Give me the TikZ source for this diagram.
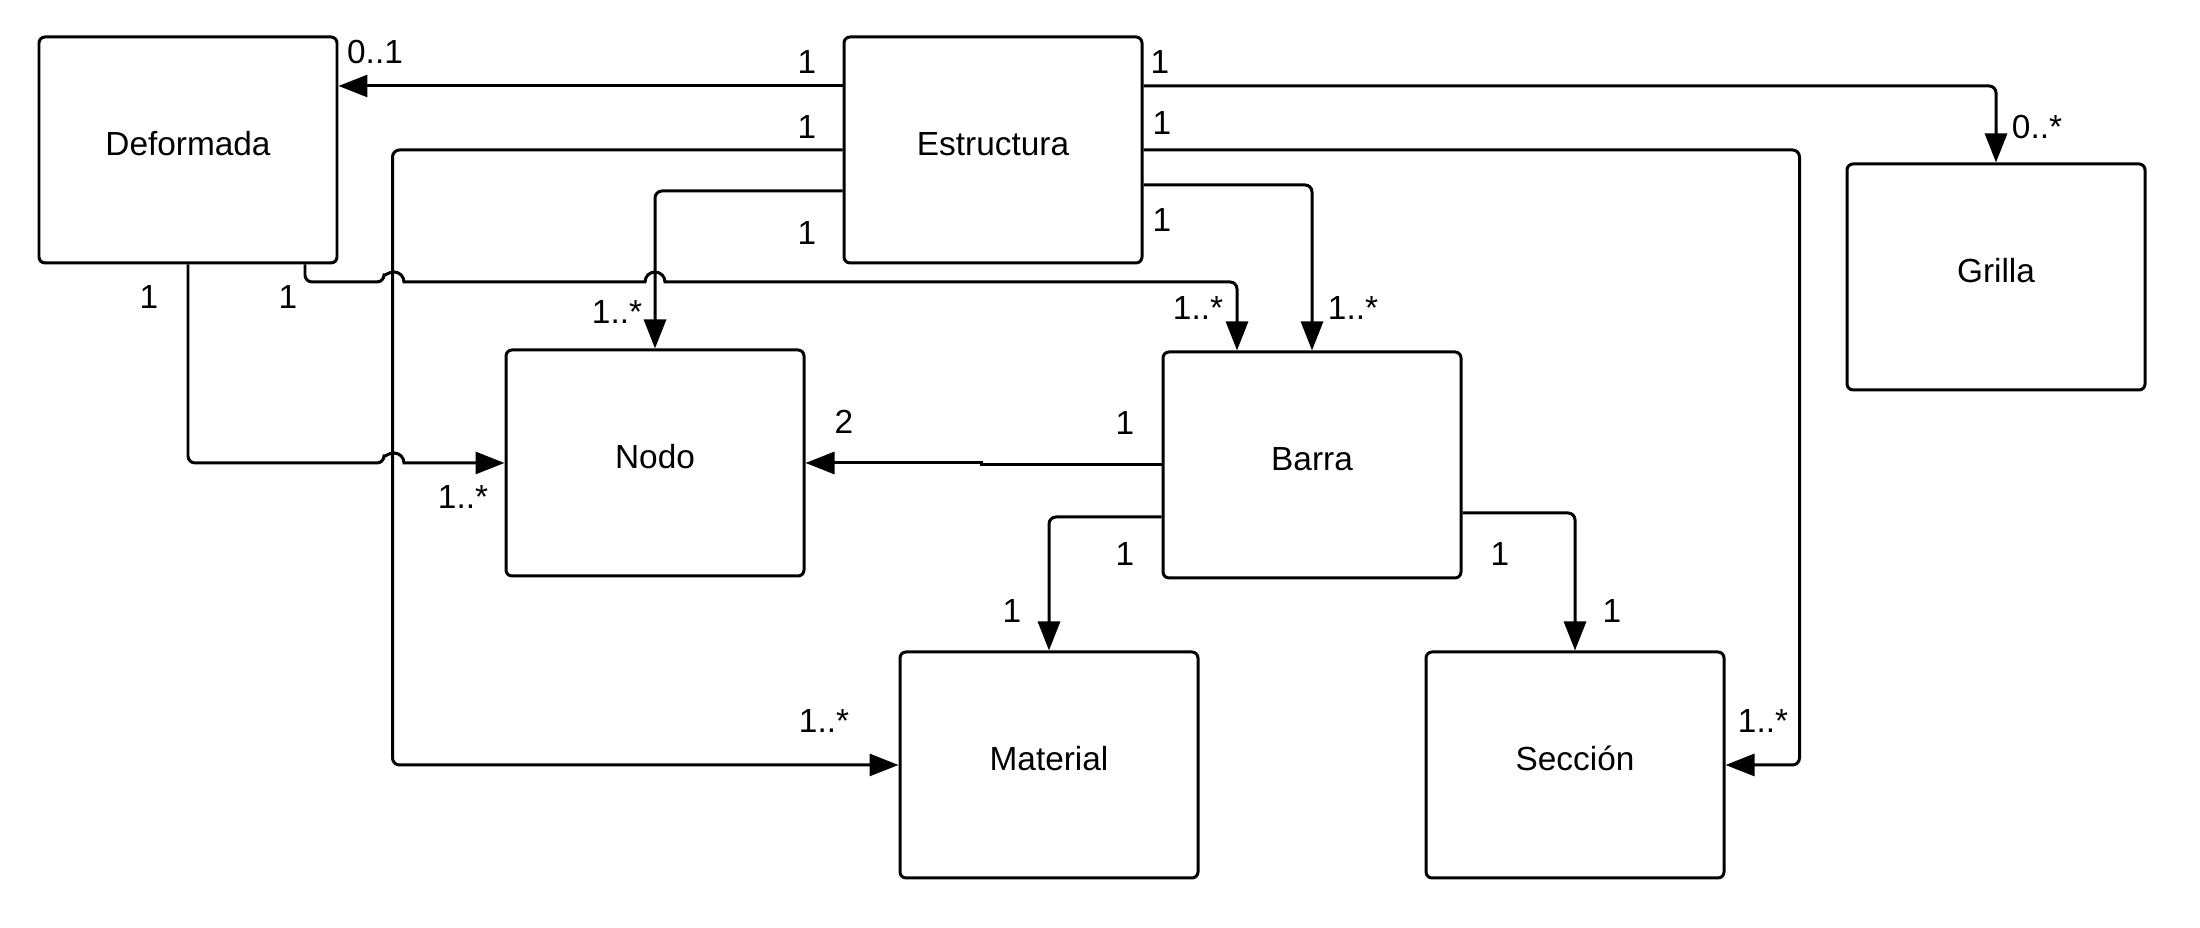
\documentclass[tikz,border=0pt]{standalone}
\usepackage{fontspec}
\setmainfont{Liberation Sans}
\usetikzlibrary{arrows.meta}
\tikzstyle{class}=[draw, rounded corners=0.6mm, line width=0.85pt,
                   minimum width=2.98cm, minimum height=2.26cm,
                   text height=2.4mm, text depth=1.2mm,
                   inner sep=0pt, font=\fontsize{9.5}{11}\selectfont]
\tikzstyle{assoc}=[-{Triangle[length=2.9mm,width=2.2mm]},
                   line width=0.85pt]
\tikzstyle{mult}=[inner sep=0pt, font=\fontsize{9.5}{11}\selectfont]

\begin{document}
\begin{tikzpicture}
     \useasboundingbox (0,0) rectangle (22,9.28);

     \node (defo)   at (1.88,7.78)  [class]{Deformada};
     \node (estr)   at (9.93,7.78)  [class]{Estructura};
     \node (grilla) at (19.96,6.51) [class]{Grilla};
     \node (nodo)   at (6.55,4.65)  [class]{Nodo};
     \node (barra)  at (13.12,4.63) [class]{Barra};
     \node (mat)    at (10.49,1.63) [class]{Material};
     \node (secc)   at (15.75,1.63) [class]{Sección};

     \draw [assoc] ([yshift=6.4mm]estr.west) -- ([yshift=6.4mm]defo.east);
     \draw [assoc, rounded corners=0.7mm] (estr.west) -- ++(-4.5,0) |- (mat.west);
     \draw [assoc, rounded corners=0.7mm] ([yshift=-4.1mm]estr.west) -| (nodo.north);
     \draw [assoc, rounded corners=0.7mm] ([yshift=6.4mm]estr.east) -| (grilla.north);
     \draw [assoc, rounded corners=0.7mm] (estr.east) -- ++(6.56,0) |- (secc.east);
     \draw [assoc, rounded corners=0.7mm] ([yshift=-3.5mm]estr.east) -| (barra.north);

     % hops over the lines coming down from Estructura
     \draw [assoc] ([xshift=11.7mm]defo.south) [rounded corners=0.7mm] |- (3.84,6.46)
        [sharp corners] arc[start angle=180, end angle=0, radius=1mm] -- (6.45,6.46)
        arc[start angle=180, end angle=0, radius=1mm]
        [rounded corners=0.7mm] -| ([xshift=-7.5mm]barra.north);
     \draw [assoc] (defo.south) [rounded corners=0.7mm] |- (3.84,4.65)
        [sharp corners] arc[start angle=180, end angle=0, radius=1mm] -- (nodo.west);

     \draw [assoc] (barra.west) -- ++(-1.8,0) |- (nodo.east);
     \draw [assoc, rounded corners=0.7mm] ([yshift=-5.2mm]barra.west) -| (mat.north);
     \draw [assoc, rounded corners=0.7mm] ([yshift=-4.8mm]barra.east) -| (secc.north);

     \foreach \x/\y/\t [count=\i] in {8.07/8.66/1, 3.75/8.76/{0..1}, 8.07/8.01/1,
         8.07/6.95/1, 6.17/6.16/{1..*}, 1.49/6.31/1, 2.88/6.31/1, 8.44/5.06/2,
         4.63/4.31/{1..*}, 8.24/2.07/{1..*}, 10.12/3.17/1, 11.60/8.66/1,
         11.62/8.05/1, 11.62/7.08/1, 20.37/8.01/{0..*}, 11.98/6.20/{1..*},
         13.53/6.20/{1..*}, 11.25/5.05/1, 11.25/3.74/1, 15.00/3.74/1,
         16.12/3.17/1, 17.63/2.07/{1..*}}
       \node (m\i) at (\x,\y) [mult]{\t};
\end{tikzpicture}
\end{document}
